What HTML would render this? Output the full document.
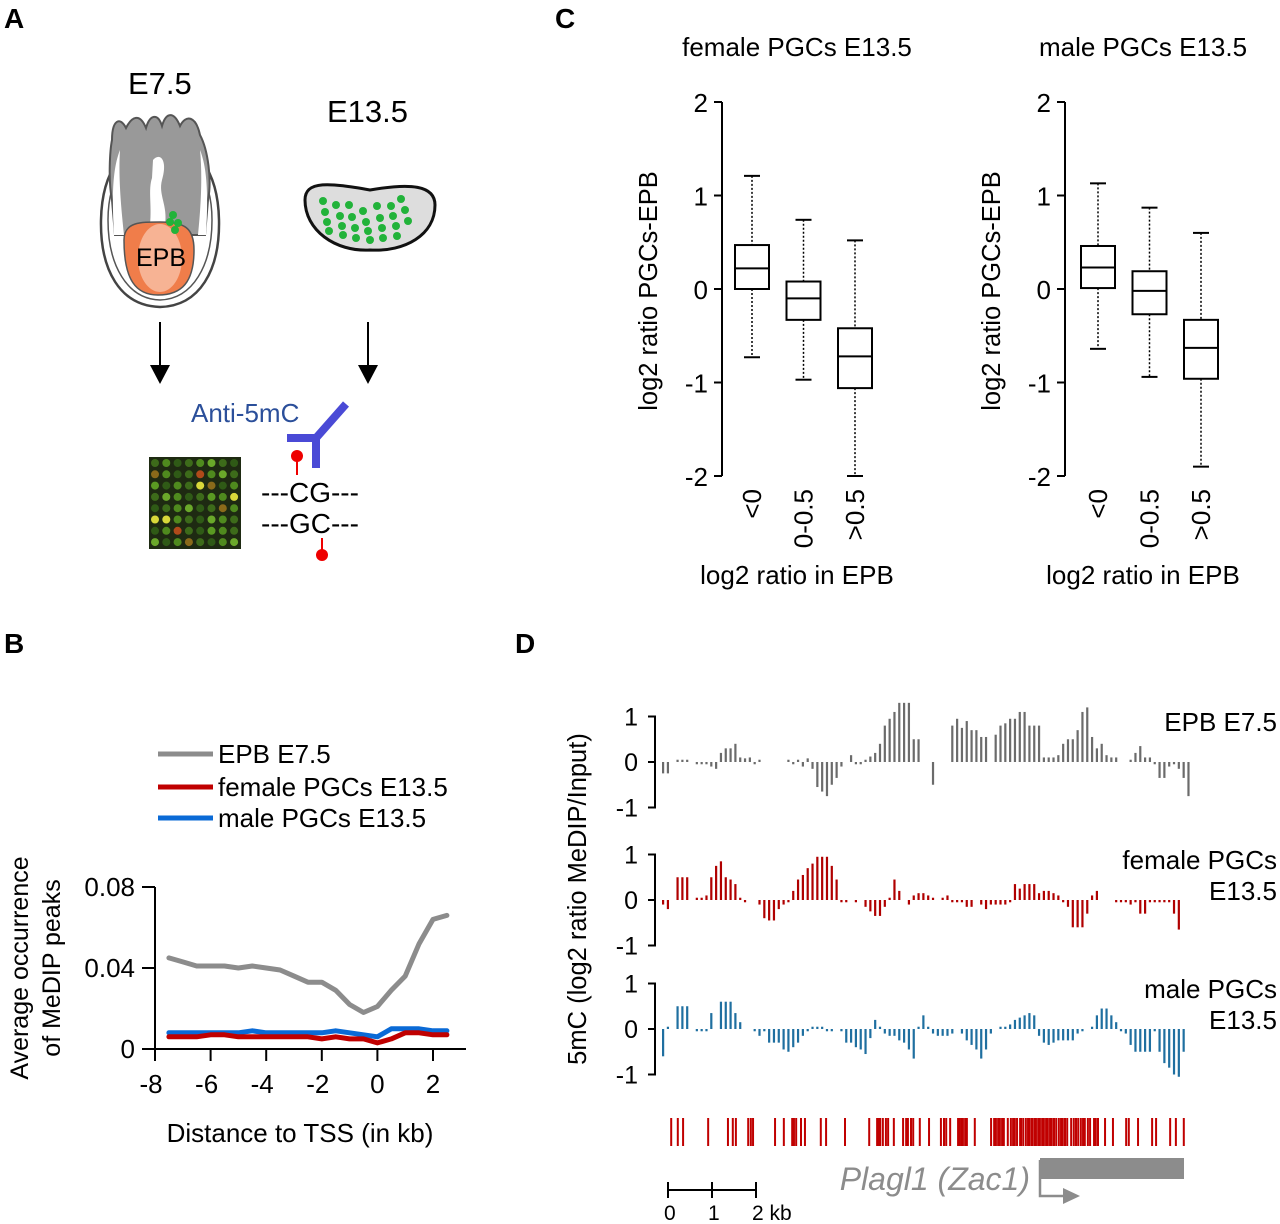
<!DOCTYPE html>
<html><head><meta charset="utf-8"><style>
html,body{margin:0;padding:0;background:#fff}
svg{display:block;font-family:"Liberation Sans",sans-serif}
</style></head><body>
<svg id="fig" width="1280" height="1224" viewBox="0 0 1280 1224" xmlns="http://www.w3.org/2000/svg">
<g font-weight="bold" font-size="28">
<text x="4" y="28">A</text>
<text x="555" y="28">C</text>
<text x="4" y="653">B</text>
<text x="515" y="653">D</text>
</g>

<!-- Panel A -->
<g>
<text x="128" y="94" font-size="31">E7.5</text>
<text x="327" y="122" font-size="31">E13.5</text>
<path d="M160,140 C124,142 102,170 101,220 C100,270 120,306 160,307 C200,306 220,270 219,220 C218,170 196,142 160,140 Z" fill="#fff" stroke="#444" stroke-width="2.5"/>
<path d="M160,147 C130,149 108,175 108,220 C108,265 127,299 160,300 C193,299 212,265 212,220 C212,175 190,149 160,147 Z" fill="none" stroke="#555" stroke-width="1.5"/>
<path d="M112,140 C112,120 120,116 126,128 C132,116 140,113 146,128 C150,114 158,113 162,126 C166,112 174,111 180,126 C186,114 196,116 200,135 C208,150 212,180 208,200 L205,235 L115,235 L112,200 C108,180 110,150 112,140 Z" fill="#999" stroke="#555" stroke-width="2"/>
<path d="M120,150 C118,180 122,215 124,235 L114,235 C112,200 112,170 120,150 Z M200,150 C203,180 200,215 198,235 L206,235 C208,200 208,170 200,150 Z" fill="#fff"/>
<path d="M153,160 C160,152 168,160 162,180 C158,195 168,205 165,225 L150,225 C152,205 148,190 152,178 Z" fill="#fff"/>
<path d="M124,240 C124,222 140,222 160,222 C185,222 194,228 194,250 C194,282 182,295 158,295 C136,295 124,280 124,240 Z" fill="#f07d4a" stroke="#555" stroke-width="1.5"/>
<ellipse cx="160" cy="258" rx="22" ry="34" fill="#f7b394"/>
<text x="136" y="266" font-size="25">EPB</text>
<g fill="#22b33a"><circle cx="173" cy="215" r="4"/><circle cx="170" cy="222" r="4"/><circle cx="178" cy="223" r="4"/><circle cx="175" cy="230" r="4"/></g>
<path d="M305,200 C305,180 330,183 370,190 C410,183 435,185 435,205 C435,235 405,252 370,250 C335,252 305,230 305,200 Z" fill="#ddd" stroke="#111" stroke-width="3"/>
<g fill="#22b33a">
<circle cx="323" cy="201" r="4"/><circle cx="336" cy="205" r="4"/><circle cx="349" cy="205" r="4"/><circle cx="363" cy="211" r="4"/><circle cx="377" cy="206" r="4"/><circle cx="391" cy="206" r="4"/><circle cx="401" cy="199" r="4"/>
<circle cx="325" cy="212" r="4"/><circle cx="340" cy="216" r="4"/><circle cx="352" cy="217" r="4"/><circle cx="366" cy="222" r="4"/><circle cx="380" cy="218" r="4"/><circle cx="393" cy="216" r="4"/><circle cx="405" cy="210" r="4"/>
<circle cx="327" cy="222" r="4"/><circle cx="342" cy="226" r="4"/><circle cx="355" cy="228" r="4"/><circle cx="368" cy="231" r="4"/><circle cx="382" cy="228" r="4"/><circle cx="396" cy="226" r="4"/><circle cx="408" cy="221" r="4"/>
<circle cx="329" cy="231" r="4"/><circle cx="343" cy="235" r="4"/><circle cx="356" cy="238" r="4"/><circle cx="370" cy="240" r="4"/><circle cx="383" cy="238" r="4"/><circle cx="397" cy="236" r="4"/>
</g>
<g>
<line x1="160" y1="322" x2="160" y2="370" stroke="#000" stroke-width="2"/><polygon points="150,365 170,365 160,384" fill="#000"/>
<line x1="368" y1="322" x2="368" y2="370" stroke="#000" stroke-width="2"/><polygon points="358,365 378,365 368,384" fill="#000"/>
</g>
<text x="191" y="422" font-size="26" fill="#2b4f9a">Anti-5mC</text>
<g stroke="#4a4ad6" stroke-width="8" fill="none"><path d="M287,438 L316,438 L346,404"/><path d="M316,438 L316,468"/></g>
<rect x="149" y="457" width="92" height="92" fill="#1e2a12"/>
<g id="spots"></g>
<g font-size="28">
<text x="261" y="502">---CG---</text><text x="261" y="533">---GC---</text>
</g>
<line x1="297" y1="458" x2="297" y2="475" stroke="#e00" stroke-width="2"/><circle cx="297" cy="456" r="6" fill="#e00"/>
<line x1="322" y1="538" x2="322" y2="553" stroke="#e00" stroke-width="2"/><circle cx="322" cy="555" r="6" fill="#e00"/>
</g>

<g id="panelC"></g>
<g id="panelB"></g>
<g id="panelD"></g>
</svg>
<script>
const NS="http://www.w3.org/2000/svg";
function mk(parent,tag,attrs,text){const e=document.createElementNS(NS,tag);for(const k in attrs)e.setAttribute(k,attrs[k]);if(text!==undefined)e.textContent=text;parent.appendChild(e);return e;}

(function(){const g=document.getElementById('spots');const cols=['#3d6b1a','#4f8a1e','#2f5a16','#6aa82a','#8a6a1a','#b04a1a','#d8d83a','#5a9a22'];
const pat=[0,1,2,0,1,3,0,2,4,1,2,0,5,1,3,0,7,2,1,0,6,4,2,1,0,3,1,2,0,7,1,6,2,0,1,3,2,0,4,1,6,6,1,0,2,3,1,0,2,1,5,0,2,7,1,0,3,2,1,4,0,2,1,3];
let k=0;for(let r=0;r<8;r++)for(let c=0;c<8;c++){mk(g,'circle',{cx:155+c*11.3,cy:463+r*11.3,r:4,fill:cols[pat[k++%pat.length]]});}})();

// ===== Panel C data =====
const cCats=["<0","0-0.5",">0.5"];
const cTicks=[2,1,0,-1,-2];
const femaleQ3=[0.47,0.08,-0.42], femaleMed=[0.22,-0.10,-0.72], femaleQ1=[0.0,-0.33,-1.06], femaleHi=[1.21,0.74,0.52], femaleLo=[-0.73,-0.97,-2.0];
const maleQ3=[0.46,0.19,-0.33], maleMed=[0.23,-0.02,-0.63], maleQ1=[0.01,-0.27,-0.96], maleHi=[1.13,0.87,0.60], maleLo=[-0.64,-0.94,-1.90];
(function(){
 const g=document.getElementById('panelC');
 const panels=[{ax:722,x0:752,title:"female PGCs E13.5",tx:797,q3:femaleQ3,med:femaleMed,q1:femaleQ1,hi:femaleHi,lo:femaleLo,name:'female'},
               {ax:1065,x0:1098,title:"male PGCs E13.5",tx:1143,q3:maleQ3,med:maleMed,q1:maleQ1,hi:maleHi,lo:maleLo,name:'male'}];
 const y=v=>289-v*93.5;
 panels.forEach(p=>{
  const pg=mk(g,'g',{});
  
  
  const t=mk(pg,'text',{x:p.tx,y:56,'font-size':26,'text-anchor':'middle'},p.title);
  
  
  const ax=mk(pg,'line',{x1:p.ax,y1:y(2),x2:p.ax,y2:y(-2),stroke:'#000','stroke-width':2});
  
  
  cTicks.forEach(v=>{mk(pg,'line',{x1:p.ax-8,y1:y(v),x2:p.ax,y2:y(v),stroke:'#000','stroke-width':2});
   const tl=mk(pg,'text',{x:p.ax-14,y:y(v)+10,'font-size':26,'text-anchor':'end'},String(v));
   
   });
  const yl=mk(pg,'text',{x:0,y:0,'font-size':25.5,'text-anchor':'middle',transform:`translate(${p.ax-65},291) rotate(-90)`},'log2 ratio  PGCs-EPB');
  
  
  cCats.forEach((c,i)=>{const cx=p.x0+i*51.5,w=34;
   const bg=mk(pg,'g',{});
   
   
   mk(bg,'line',{x1:cx,y1:y(p.hi[i]),x2:cx,y2:y(p.q3[i]),stroke:'#000','stroke-width':1.5,'stroke-dasharray':'2,2'});
   mk(bg,'line',{x1:cx,y1:y(p.q1[i]),x2:cx,y2:y(p.lo[i]),stroke:'#000','stroke-width':1.5,'stroke-dasharray':'2,2'});
   mk(bg,'line',{x1:cx-8,y1:y(p.hi[i]),x2:cx+8,y2:y(p.hi[i]),stroke:'#000','stroke-width':2});
   mk(bg,'line',{x1:cx-8,y1:y(p.lo[i]),x2:cx+8,y2:y(p.lo[i]),stroke:'#000','stroke-width':2});
   mk(bg,'rect',{x:cx-w/2,y:y(p.q3[i]),width:w,height:y(p.q1[i])-y(p.q3[i]),fill:'#fff',stroke:'#000','stroke-width':2});
   mk(bg,'line',{x1:cx-w/2,y1:y(p.med[i]),x2:cx+w/2,y2:y(p.med[i]),stroke:'#000','stroke-width':2});
   const cl=mk(pg,'text',{x:0,y:0,'font-size':26,'text-anchor':'end',transform:`translate(${cx+9},489) rotate(-90)`},c);
   
   });
  const xl=mk(pg,'text',{x:p.tx,y:584,'font-size':26,'text-anchor':'middle'},'log2 ratio in EPB');
  
  
 });
})();

// ===== Panel B data =====
const bX=[-7.5,-7,-6.5,-6,-5.5,-5,-4.5,-4,-3.5,-3,-2.5,-2,-1.5,-1,-0.5,0,0.5,1,1.5,2,2.5];
const epbVals=[0.045,0.043,0.041,0.041,0.041,0.040,0.041,0.040,0.039,0.036,0.033,0.033,0.029,0.022,0.018,0.021,0.029,0.036,0.052,0.064,0.066];
const femaleVals=[0.006,0.006,0.006,0.007,0.007,0.006,0.006,0.006,0.006,0.006,0.006,0.005,0.006,0.005,0.005,0.003,0.005,0.008,0.008,0.007,0.007];
const maleVals=[0.008,0.008,0.008,0.008,0.008,0.008,0.009,0.008,0.008,0.008,0.008,0.008,0.009,0.008,0.007,0.006,0.010,0.010,0.010,0.009,0.009];
const bXTicks=[-8,-6,-4,-2,0,2];
const bYTicks=[0,0.04,0.08];
(function(){
 const g=document.getElementById('panelB');
 const X=v=>155+(v+8)*27.8, Y=v=>1049-v*2025;
 const leg=[['EPB E7.5','#8c8c8c',754],['female PGCs E13.5','#c00000',787],['male PGCs E13.5','#0a6ad6',818]];
 leg.forEach(l=>{const lg=mk(g,'g',{});
  
  
  mk(lg,'line',{x1:158,y1:l[2],x2:213,y2:l[2],stroke:l[1],'stroke-width':5});
  mk(lg,'text',{x:218,y:l[2]+9,'font-size':26},l[0]);});
 const ya=mk(g,'line',{x1:155,y1:Y(0.08),x2:155,y2:1049,stroke:'#000','stroke-width':2});
 
 
 const xa=mk(g,'line',{x1:142,y1:1049,x2:466,y2:1049,stroke:'#000','stroke-width':2});
 
 
 bYTicks.forEach(v=>{mk(g,'line',{x1:142,y1:Y(v),x2:155,y2:Y(v),stroke:'#000','stroke-width':2});
  const t=mk(g,'text',{x:135,y:Y(v)+9,'font-size':26,'text-anchor':'end'},String(v));
  
  });
 bXTicks.forEach(v=>{mk(g,'line',{x1:X(v),y1:1049,x2:X(v),y2:1061,stroke:'#000','stroke-width':2});
  const t=mk(g,'text',{x:X(v)-(v<0?4:0),y:1093,'font-size':26,'text-anchor':'middle'},String(v));
  
  });
 const series=[[epbVals,'#8c8c8c','epb-line'],[maleVals,'#0a6ad6','male-line'],[femaleVals,'#c00000','female-line']];
 series.forEach(s=>{const d=bX.map((x,i)=>(i?'L':'M')+X(x).toFixed(1)+','+Y(s[0][i]).toFixed(1)).join(' ');
  const p=mk(g,'path',{d:d,fill:'none',stroke:s[1],'stroke-width':5,'stroke-linejoin':'round','stroke-linecap':'round'});
  
  });
 const yt=mk(g,'text',{x:0,y:0,'font-size':25,'text-anchor':'middle',transform:'translate(28,968) rotate(-90)'},'Average  occurrence');
 
 
 mk(g,'text',{x:0,y:0,'font-size':25,'text-anchor':'middle',transform:'translate(60,968) rotate(-90)'},'of MeDIP  peaks');
 const xt=mk(g,'text',{x:300,y:1142,'font-size':26,'text-anchor':'middle'},'Distance to TSS (in kb)');
 
 
})();

// ===== Panel D data =====
const N=null;
const epbTrack=[-0.25,-0.25,N,0.05,0.05,0.05,N,-0.05,-0.05,-0.05,-0.1,-0.15,0.2,0.3,0.3,0.4,0.1,0.08,0.1,-0.05,0.05,N,N,N,N,N,0.05,-0.05,0.05,-0.1,0.08,-0.15,-0.55,-0.65,-0.75,-0.5,-0.35,-0.1,N,0.15,-0.05,-0.05,0.05,0.12,0.2,0.4,0.8,0.95,1.1,1.3,1.3,1.3,0.5,0.5,N,N,-0.5,N,N,N,0.8,0.95,0.75,0.9,0.7,0.7,0.55,0.55,N,0.6,0.8,0.85,0.95,0.95,1.1,1.1,0.8,0.8,0.8,0.1,0.1,0.1,0.15,0.4,0.5,0.5,0.7,1.1,1.2,0.55,0.3,0.4,0.15,0.1,0.1,N,N,0.05,0.2,0.35,0.1,0.1,-0.05,-0.35,-0.35,-0.1,-0.05,-0.15,-0.35,-0.75];
const femaleTrack=[-0.1,-0.2,N,0.5,0.5,0.5,N,0.05,0.05,0.1,0.5,0.75,0.85,0.5,0.45,0.35,0.05,-0.05,N,N,-0.1,-0.4,-0.45,-0.45,-0.2,-0.1,-0.05,0.2,0.45,0.55,0.7,0.8,0.95,0.95,0.95,0.75,0.45,-0.05,-0.05,N,-0.05,N,-0.15,-0.25,-0.35,-0.35,-0.15,0.05,0.45,0.2,N,-0.1,0.1,0.15,0.15,0.1,0.05,N,0.05,0.1,-0.05,-0.05,-0.05,-0.15,-0.15,N,-0.1,-0.2,-0.1,-0.1,-0.1,-0.1,-0.05,0.35,0.25,0.35,0.35,0.35,0.15,0.2,0.2,0.15,0.1,-0.05,-0.15,-0.6,-0.6,-0.6,-0.3,0.1,0.2,N,N,N,-0.05,-0.05,-0.05,-0.1,-0.05,-0.3,-0.3,-0.05,-0.05,-0.05,-0.05,-0.05,-0.3,-0.65];
const maleTrack=[-0.6,0.05,N,0.5,0.5,0.5,N,-0.05,-0.05,-0.05,0.35,N,0.6,0.6,0.6,0.35,0.15,N,N,-0.05,-0.15,-0.05,-0.3,-0.3,-0.3,-0.45,-0.5,-0.4,-0.3,-0.15,-0.05,0.05,0.05,0.05,-0.05,-0.05,N,-0.05,-0.3,-0.3,-0.4,-0.45,-0.55,-0.2,0.2,0.05,-0.1,-0.15,-0.15,-0.25,-0.3,-0.45,-0.65,0.05,0.3,0.05,-0.1,-0.15,-0.15,-0.15,-0.1,N,-0.1,-0.25,-0.35,-0.45,-0.65,-0.45,-0.1,N,0.05,0.05,0.1,0.2,0.25,0.3,0.35,0.3,-0.15,-0.3,-0.35,-0.3,-0.25,-0.25,-0.25,-0.25,-0.1,-0.05,N,0.05,0.3,0.45,0.45,0.3,0.15,-0.05,-0.1,-0.35,-0.5,-0.5,-0.5,-0.5,-0.05,-0.5,-0.75,-0.85,-1.0,-1.05,-0.5];
const cpgPositions=[0.05,0.2,0.32,0.89,1.34,1.45,1.52,1.8,1.86,1.91,2.41,2.61,2.8,2.84,2.89,3.0,3.09,3.45,3.57,4.0,4.55,4.73,4.77,4.8,4.86,4.93,4.98,5.11,5.32,5.39,5.43,5.5,5.55,5.7,5.91,6.18,6.25,6.3,6.39,6.57,6.6,6.64,6.68,6.73,6.77,6.95,7.32,7.39,7.43,7.48,7.52,7.57,7.61,7.7,7.77,7.82,7.86,7.91,7.98,8.0,8.05,8.11,8.16,8.2,8.25,8.3,8.34,8.39,8.43,8.48,8.52,8.57,8.61,8.66,8.7,8.75,8.8,8.86,8.91,8.95,9.0,9.05,9.14,9.2,9.25,9.3,9.36,9.41,9.45,9.52,9.57,9.66,9.7,9.75,9.91,10.09,10.39,10.45,10.66,10.98,11.07,11.39,11.52,11.7];
const dYTicks=[1,0,-1];
(function(){
 const g=document.getElementById('panelD');
 const x0=662, step=4.82, kb=44;
 const tracks=[[epbTrack,'#6b6b6b',762,'epb-track',['EPB E7.5']],[femaleTrack,'#b00000',900,'female-track',['female PGCs','E13.5']],[maleTrack,'#1f6fa0',1029,'male-track',['male PGCs','E13.5']]];
 tracks.forEach(t=>{const tg=mk(g,'g',{});
  
  
  const zy=t[2],u=45.5;
  mk(tg,'path',{d:`M648,${zy-u} L655,${zy-u} L655,${zy+u} L648,${zy+u}`,fill:'none',stroke:'#000','stroke-width':2});
  dYTicks.forEach(v=>{mk(tg,'line',{x1:648,y1:zy-v*u,x2:655,y2:zy-v*u,stroke:'#000','stroke-width':2});
   const tl=mk(tg,'text',{x:638,y:zy-v*u+9,'font-size':25,'text-anchor':'end'},String(v));
   
   });
  t[0].forEach((v,i)=>{if(v===null)return;const h=Math.max(Math.abs(v)*u,2);
   const r=mk(tg,'rect',{x:x0+i*step,y:v>=0?zy-h:zy,width:2.2,height:h,fill:t[1]});
   
   });
  t[4].forEach((s,j)=>{const lb=mk(tg,'text',{x:1277,y:zy-31+j*31,'font-size':26,'text-anchor':'end'},s);
   
   });
 });
 const yt=mk(g,'text',{x:0,y:0,'font-size':25.5,'text-anchor':'middle',transform:'translate(586,899) rotate(-90)'},'5mC (log2 ratio MeDIP/Input)');
 
 
 const cg=mk(g,'g',{});
 
 
 cpgPositions.forEach(p=>{mk(cg,'rect',{x:668+p*kb,y:1118,width:2,height:28,fill:'#c00000'});});
 const gene=mk(g,'rect',{x:1040,y:1158,width:144,height:21,fill:'#8c8c8c'});
 
 
 mk(g,'path',{d:'M1040,1160 L1040,1196 L1065,1196',fill:'none',stroke:'#8c8c8c','stroke-width':2.5});
 mk(g,'polygon',{points:'1063,1188 1080,1196 1063,1204',fill:'#8c8c8c'});
 const gl=mk(g,'text',{x:1030,y:1190,'font-size':32,'font-style':'italic','text-anchor':'end',fill:'#8c8c8c'},'Plagl1 (Zac1)');
 
 
 const sb=mk(g,'g',{});
 
 
 mk(sb,'line',{x1:668,y1:1190,x2:756,y2:1190,stroke:'#000','stroke-width':2});
 [0,1,2].forEach(k=>{mk(sb,'line',{x1:668+k*kb,y1:1182,x2:668+k*kb,y2:1198,stroke:'#000','stroke-width':2});
  mk(sb,'text',{x:664+k*kb,y:1220,'font-size':21},k===2?'2 kb':String(k));});
})();
</script>
</body></html>
